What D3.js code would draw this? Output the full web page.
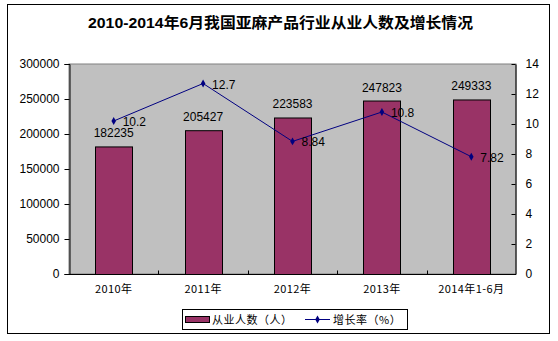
<!DOCTYPE html>
<html>
<head>
<meta charset="utf-8">
<script src="https://cdn.jsdelivr.net/npm/d3@7"></script>
<style>
  html, body { margin: 0; padding: 0; background: #fff; }
  svg { display: block; }
</style>
</head>
<body>
<svg id="chart" width="558" height="341"></svg>
<script>
// Data
const categories = ["2010年", "2011年", "2012年", "2013年", "2014年1-6月"];
const employees = [182235, 205427, 223583, 247823, 249333];
const growth = [10.2, 12.7, 8.84, 10.8, 7.82];
const leftTicks = [0, 50000, 100000, 150000, 200000, 250000, 300000];
const rightTicks = [0, 2, 4, 6, 8, 10, 12, 14];

const title = "2010-2014年6月我国亚麻产品行业从业人数及增长情况";
const seriesNames = ["从业人数（人）", "增长率（%）"];

const svg = d3.select("#chart");
const plot = { left: 69, right: 516, top: 64, bottom: 274 };

const numFont = "'Liberation Sans', Arial, sans-serif";
const cjkFont = "'Noto Sans CJK SC', sans-serif";

// Outer chart frame
svg.append("rect")
  .attr("x", 7.5).attr("y", 4.5)
  .attr("width", 542).attr("height", 329)
  .attr("fill", "#fff").attr("stroke", "#000").attr("stroke-width", 1);

// Title
svg.append("text")
  .attr("x", 88).attr("y", 28)
  .attr("textLength", 385).attr("lengthAdjust", "spacingAndGlyphs")
  .attr("font-family", numFont + ", " + cjkFont)
  .attr("font-weight", "bold").attr("font-size", 15)
  .attr("fill", "#000")
  .text(title);

// Scales
const x = d3.scaleBand().domain(categories).range([plot.left, plot.right]);
const yL = d3.scaleLinear().domain([0, 300000]).range([plot.bottom, plot.top]);
const yR = d3.scaleLinear().domain([0, 14]).range([plot.bottom, plot.top]);

// Plot background
svg.append("rect")
  .attr("x", plot.left).attr("y", plot.top)
  .attr("width", plot.right - plot.left).attr("height", plot.bottom - plot.top)
  .attr("fill", "#C0C0C0").attr("stroke", "#808080").attr("stroke-width", 1);

// Bars
const barW = 37;
svg.append("g").selectAll("rect")
  .data(employees)
  .join("rect")
  .attr("x", (d, i) => Math.round(x(categories[i]) + x.bandwidth() / 2 - barW / 2) + 0.5)
  .attr("y", d => yL(d) + 0.5)
  .attr("width", barW)
  .attr("height", d => plot.bottom - yL(d))
  .attr("fill", "#993366")
  .attr("stroke", "#000").attr("stroke-width", 1);

// Left axis
const axisL = svg.append("g")
  .attr("transform", `translate(${plot.left + 0.5},0)`)
  .call(d3.axisLeft(yL).tickValues(leftTicks).tickSize(5).tickPadding(5).tickFormat(d3.format("d")));
axisL.select(".domain").attr("stroke", "#000");
axisL.selectAll("line").attr("stroke", "#000");
axisL.selectAll("text").attr("font-family", numFont).attr("font-size", 12).attr("fill", "#000");

// Right axis (ticks point into the plot)
const axisR = svg.append("g")
  .attr("transform", `translate(${plot.right - 0.5},0)`)
  .call(d3.axisRight(yR).tickValues(rightTicks).tickSizeInner(-4).tickSizeOuter(0).tickPadding(10));
axisR.select(".domain").attr("stroke", "#000");
axisR.selectAll("line").attr("stroke", "#000");
axisR.selectAll("text").attr("font-family", numFont).attr("font-size", 12).attr("fill", "#000");

// Bottom axis with boundary ticks pointing up
const axisB = svg.append("g")
  .attr("transform", `translate(0,${plot.bottom + 0.5})`);
axisB.append("line")
  .attr("x1", plot.left).attr("x2", plot.right)
  .attr("stroke", "#000");
axisB.selectAll("line.tick")
  .data(categories.slice(1))
  .join("line")
  .attr("class", "tick")
  .attr("x1", d => Math.round(x(d)) + 0.5).attr("x2", d => Math.round(x(d)) + 0.5)
  .attr("y1", 0).attr("y2", -4)
  .attr("stroke", "#000");
axisB.selectAll("text")
  .data(categories)
  .join("text")
  .attr("x", d => x(d) + x.bandwidth() / 2)
  .attr("y", 18.5)
  .attr("text-anchor", "middle")
  .attr("font-family", cjkFont)
  .attr("font-size", 11)
  .attr("letter-spacing", 0.4)
  .attr("fill", "#000")
  .text(d => d);

// Bar value labels
svg.append("g").selectAll("text")
  .data(employees)
  .join("text")
  .attr("x", (d, i) => x(categories[i]) + x.bandwidth() / 2)
  .attr("y", d => yL(d) - 9)
  .attr("text-anchor", "middle")
  .attr("font-family", numFont).attr("font-size", 12).attr("fill", "#000")
  .text(d => d);

// Growth line
const cx = i => x(categories[i]) + x.bandwidth() / 2;
const line = d3.line().x((d, i) => cx(i)).y(d => yR(d));
svg.append("path")
  .datum(growth)
  .attr("d", line)
  .attr("fill", "none")
  .attr("stroke", "#000080").attr("stroke-width", 1);

const diamond = d3.symbol().type(d3.symbolDiamond).size(18);
svg.append("g").selectAll("path")
  .data(growth)
  .join("path")
  .attr("d", diamond)
  .attr("transform", (d, i) => `translate(${cx(i)},${yR(d)})`)
  .attr("fill", "#000080");

svg.append("g").selectAll("text")
  .data(growth)
  .join("text")
  .attr("x", (d, i) => cx(i) + 9)
  .attr("y", d => yR(d) + 5)
  .attr("font-family", numFont).attr("font-size", 12).attr("fill", "#000")
  .text(d => d);

// Legend
const lg = svg.append("g");
lg.append("rect")
  .attr("x", 182.5).attr("y", 309.5).attr("width", 225).attr("height", 20)
  .attr("fill", "#fff").attr("stroke", "#000");
lg.append("rect")
  .attr("x", 185.5).attr("y", 316.5).attr("width", 24).attr("height", 6)
  .attr("fill", "#993366").attr("stroke", "#000");
lg.append("text")
  .attr("x", 212).attr("y", 324)
  .attr("font-family", cjkFont).attr("font-size", 11).attr("letter-spacing", 0.5).attr("fill", "#000")
  .text(seriesNames[0]);
lg.append("line")
  .attr("x1", 305).attr("x2", 330).attr("y1", 319.5).attr("y2", 319.5)
  .attr("stroke", "#000080");
lg.append("path")
  .attr("d", diamond)
  .attr("transform", "translate(317.5,319.5)")
  .attr("fill", "#000080");
lg.append("text")
  .attr("x", 333).attr("y", 324)
  .attr("font-family", cjkFont).attr("font-size", 11).attr("letter-spacing", 0.5).attr("fill", "#000")
  .text(seriesNames[1]);
</script>
</body>
</html>
